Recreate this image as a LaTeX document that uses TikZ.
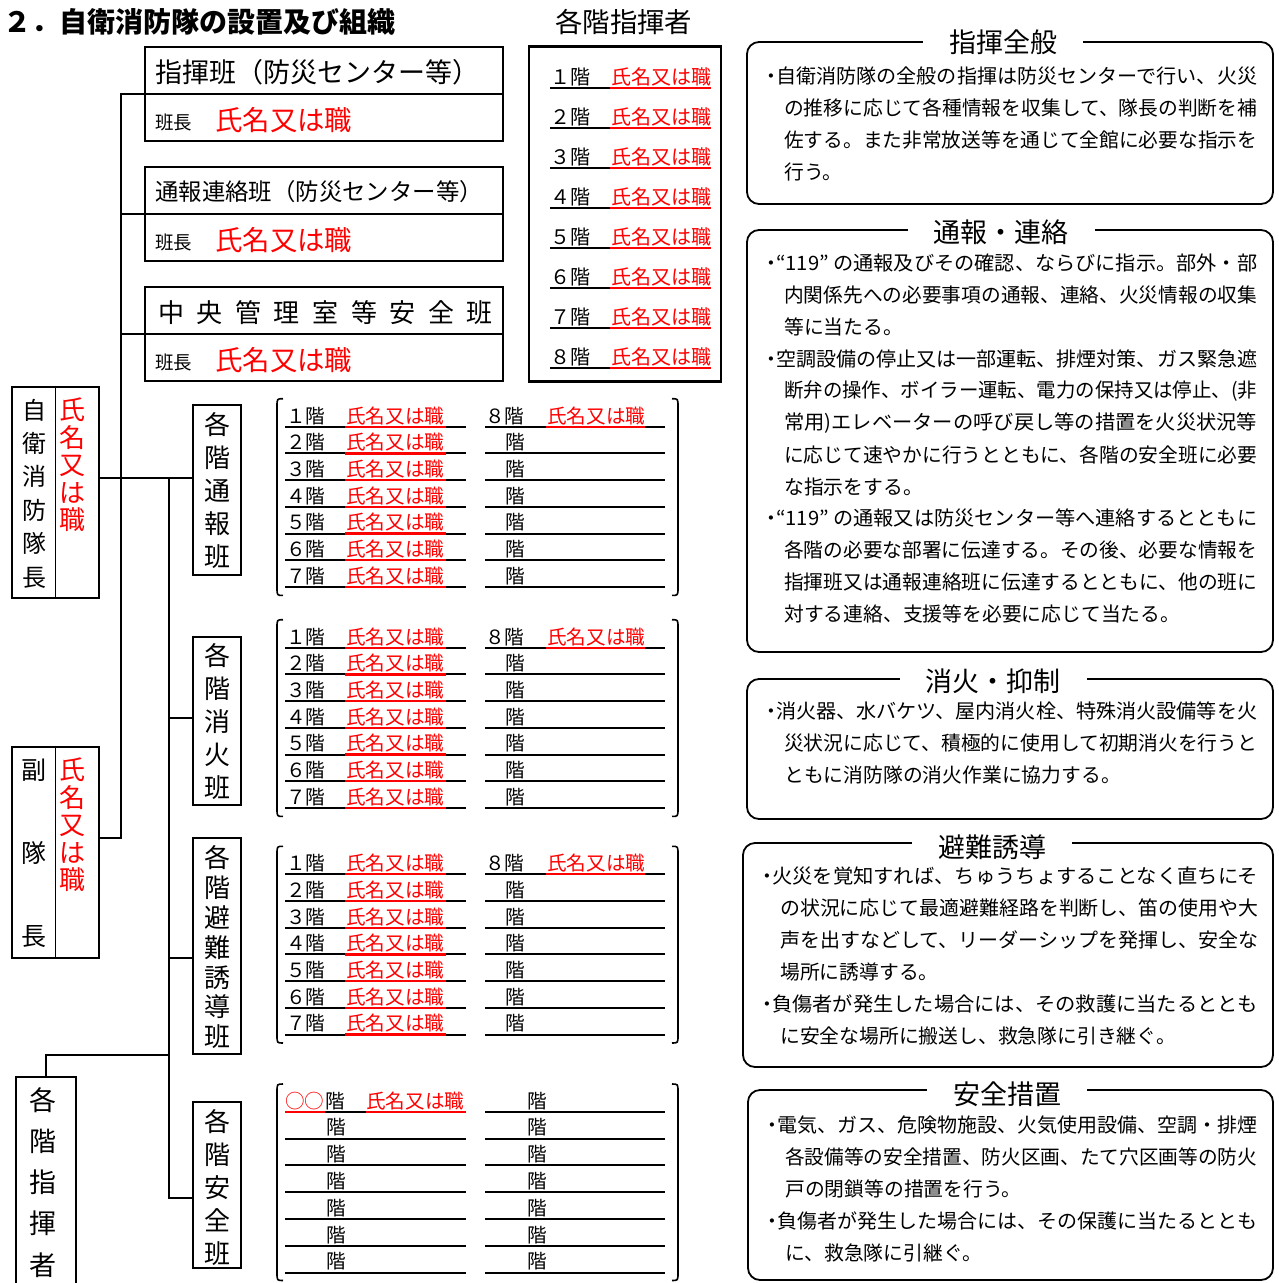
\documentclass[tikz,border=0pt]{standalone}
\usepackage{fontspec}
\usepackage{graphicx}
\setmainfont{Noto Sans CJK JP}
\definecolor{jred}{RGB}{255,0,0}
\newcommand\fsz[1]{\fontsize{#1pt}{#1pt}\selectfont}
\newcommand\fwd[1]{\ifcase#1 ０\or １\or ２\or ３\or ４\or ５\or ６\or ７\or ８\fi}
\tikzset{
  cj/.style={inner sep=0pt, execute at begin node={\rule[-0.12em]{0pt}{1em}}},
  box/.style={draw, line width=2.6pt, inner sep=0pt},
  conn/.style={line width=2.4pt},
  tline/.style={line width=2pt},
  rline/.style={line width=2.2pt, draw=jred},
  rbox/.style={draw, line width=1.8pt, rounded corners=12pt, inner sep=0pt},
  ttl/.style={cj, fill=white, inner xsep=26pt, inner ysep=1pt, font=\fsz{27}},
  body/.style={cj, anchor=west, font=\fsz{19.8}},
  brk/.style={line width=1.6pt},
  rowtxt/.style={cj, anchor=west, font=\fsz{19.6}},
}
\newcommand\bulpt[3]{\node[cj, font=\fsz{19.8}] (#1) at (#2,#3) {・};}
\newcommand\justl[5]{\node[body] (#1) at (#2,#3) {\resizebox{#4pt}{\height}{\rule[-0.12em]{0pt}{1em}#5}};}
\newcommand\natl[4]{\node[body] (#1) at (#2,#3) {#4};}
\newcommand\vtext[7]{%
  \foreach \c [count=\k] in {#7}{\node[cj, text=#6, font=\fsz{#5}] (#1\k) at (#2,{#3+(\k-1)*#4}) {\c};}}
\newcommand\brackets[2]{%
  \draw[brk] (283,#1) .. controls (277,#1) .. (277,{#1+8}) -- (277,{#2-8}) .. controls (277,#2) .. (283,#2);
  \draw[brk] (672,#1) .. controls (678,#1) .. (678,{#1+8}) -- (678,{#2-8}) .. controls (678,#2) .. (672,#2);}
\newcommand\floortab[2]{%
  \foreach \i in {1,...,7}{%
    \pgfmathsetmacro\yy{#2+(\i-1)*26.7}
    \draw[tline] (285,\yy) -- (466,\yy);
    \draw[tline] (485,\yy) -- (665,\yy);
    \draw[rline] (345,\yy) -- (446,\yy);
    \node[rowtxt] (#1l\i) at (286,{\yy-11}) {\fwd{\i}階};
    \node[rowtxt, text=jred] (#1n\i) at (346,{\yy-11}) {氏名又は職};
    \ifnum\i=1
      \draw[rline] (546,\yy) -- (645,\yy);
      \node[rowtxt] (#1r\i) at (485,{\yy-11}) {８階};
      \node[rowtxt, text=jred] (#1m\i) at (547,{\yy-11}) {氏名又は職};
    \else
      \node[rowtxt] (#1r\i) at (505,{\yy-11}) {階};
    \fi
  }
  \pgfmathsetmacro\tt{#2-28}\pgfmathsetmacro\bb{#2+168.7}
  \brackets{\tt}{\bb}}
\begin{document}
\begin{tikzpicture}[x=1pt,y=-1pt]
\useasboundingbox (0,0) rectangle (1279,1283);

% titles
\node[cj, anchor=west, font=\fsz{28}\bfseries] (title) at (3,22) {２．自衛消防隊の設置及び組織};
\node[cj, anchor=west, font=\fsz{27.4}] (kttl) at (555,22) {各階指揮者};

% top-left boxes
\node[box, minimum width=358pt, minimum height=94pt] (b1) at (324,94) {};
\node[box, minimum width=358pt, minimum height=94pt] (b2) at (324,214) {};
\node[box, minimum width=358pt, minimum height=94pt] (b3) at (324,334) {};
\draw[conn] (b1.west) -- (b1.east);
\draw[conn] (b2.west) -- (b2.east);
\draw[conn] (b3.west) -- (b3.east);
\node[cj, anchor=west, font=\fsz{27}] (b1t) at (155,72) {指揮班（防災センター等）};
\node[cj, anchor=west, font=\fsz{23.4}] (b2t) at (155,192) {通報連絡班（防災センター等）};
\node[cj, anchor=west, font=\fsz{26}] (b3t) at (158,313) {中\hspace{12.6pt}央\hspace{12.6pt}管\hspace{12.6pt}理\hspace{12.6pt}室\hspace{12.6pt}等\hspace{12.6pt}安\hspace{12.6pt}全\hspace{12.6pt}班};
\foreach \n/\y in {1/122,2/242,3/362}{
  \node[cj, anchor=west, font=\fsz{18.5}] (b\n h) at (155,\y) {班長};
  \node[cj, anchor=west, font=\fsz{27.4}, text=jred] (b\n r) at (215,{\y-2}) {氏名又は職};
}

% floor commander table
\node[draw, line width=2.6pt, minimum width=192pt, minimum height=335pt, inner sep=0pt] (ktab) at (625,214) {};
\foreach \i in {1,...,8}{
  \pgfmathsetmacro\yy{88.3+(\i-1)*40}
  \draw[tline] (550,\yy) -- (611,\yy);
  \draw[rline] (610,\yy) -- (711,\yy);
  \node[cj, anchor=west, font=\fsz{20}] (kf\i) at (550,{\yy-11}) {\fwd{\i}階};
  \node[cj, anchor=west, font=\fsz{20}, text=jred] (kn\i) at (611,{\yy-11}) {氏名又は職};
}

% left boxes
\node[box, minimum width=87pt, minimum height=211pt] (taicho) at (55.5,492.5) {};
\draw[line width=1.6pt] (taicho.north) -- (taicho.south);
\vtext{tc}{34}{410}{33.4}{24}{black}{自,衛,消,防,隊,長}
\vtext{tr}{72}{410}{27.5}{26}{jred}{氏,名,又,は,職}

\node[box, minimum width=87pt, minimum height=211pt] (fuku) at (55.5,852.5) {};
\draw[line width=1.6pt] (fuku.north) -- (fuku.south);
\vtext{fc}{34}{770}{83}{25}{black}{副,隊,長}
\vtext{fr}{72}{770}{27.5}{26}{jred}{氏,名,又,は,職}

\node[box, minimum width=60pt, minimum height=226pt] (kakukai) at (46,1190) {};
\vtext{kc}{43}{1100}{41.2}{27}{black}{各,階,指,揮,者}

% group boxes
\node[box, minimum width=48pt, minimum height=170pt] (tsuho) at (217,490) {};
\vtext{g1}{217}{425}{33}{26}{black}{各,階,通,報,班}
\node[box, minimum width=48pt, minimum height=168pt] (shoka) at (217,721) {};
\vtext{g2}{217}{656}{33}{26}{black}{各,階,消,火,班}
\node[box, minimum width=48pt, minimum height=216pt] (hinan) at (217,946) {};
\vtext{g3}{217}{858}{29.8}{26}{black}{各,階,避,難,誘,導,班}
\node[box, minimum width=48pt, minimum height=166pt] (anzen) at (217,1185) {};
\vtext{g4}{217}{1122}{32.8}{26}{black}{各,階,安,全,班}

% connectors
\coordinate (busA) at (121,0);
\coordinate (busB) at (169,0);
\coordinate (yTaicho) at (0,478);
\coordinate (yFuku) at (0,838);
\coordinate (yShoka) at (0,718);
\coordinate (yHinan) at (0,958);
\coordinate (yAnzen) at (0,1198);
\coordinate (yKaku) at (0,1055);
\draw[conn] (b1.west) -| (busA |- yFuku) -- (fuku.east |- yFuku);
\draw[conn] (b2.west) -- (b2.west -| busA);
\draw[conn] (b3.west) -- (b3.west -| busA);
\draw[conn] (taicho.east |- yTaicho) -- (tsuho.west |- yTaicho);
\draw[conn] (busB |- yTaicho) -- (busB |- yAnzen) -- (anzen.west |- yAnzen);
\draw[conn] (busB |- yShoka) -- (shoka.west |- yShoka);
\draw[conn] (busB |- yHinan) -- (hinan.west |- yHinan);
\draw[conn] (busB |- yKaku) -| (kakukai.north);

% floor tables
\floortab{ta}{426.7}
\floortab{tb}{647.7}
\floortab{tc}{874.3}
% safety table
\foreach \i in {1,...,7}{%
  \pgfmathsetmacro\yy{1111.7+(\i-1)*26.8}
  \draw[tline] (285,\yy) -- (466,\yy);
  \draw[tline] (485,\yy) -- (665,\yy);
  \node[rowtxt] (tdr\i) at (527,{\yy-11}) {階};
  \ifnum\i=1
    \draw[rline] (285,\yy) -- (325,\yy);
    \draw[rline] (366,\yy) -- (466,\yy);
    \node[rowtxt, text=jred] (tdo\i) at (285,{\yy-11}) {○○};
    \node[rowtxt] (tdl\i) at (325,{\yy-11}) {階};
    \node[rowtxt, text=jred] (tdn\i) at (366,{\yy-11}) {氏名又は職};
  \else
    \node[rowtxt] (tdl\i) at (326,{\yy-11}) {階};
  \fi
}
\brackets{1084}{1280.5}

% right boxes
\node[rbox, minimum width=526pt, minimum height=162pt] (A) at (1010,123) {};
\node[ttl] (At) at (1003,42) {指揮全般};
\bulpt{Ab1}{771}{76}
\justl{A1}{776}{76}{481}{自衛消防隊の全般の指揮は防災センターで行い、火災}
\justl{A2}{784}{108}{473}{の推移に応じて各種情報を収集して、隊長の判断を補}
\justl{A3}{784}{140}{473}{佐する。また非常放送等を通じて全館に必要な指示を}
\natl{A4}{784}{172}{行う。}

\node[rbox, minimum width=526pt, minimum height=422pt] (B) at (1010,441) {};
\node[ttl] (Bt) at (1001,232) {通報・連絡};
\bulpt{Bb1}{771}{263}
\justl{B1}{776}{263}{481}{“119” の通報及びその確認、ならびに指示。部外・部}
\justl{B2}{784}{295}{473}{内関係先への必要事項の通報、連絡、火災情報の収集}
\natl{B3}{784}{327}{等に当たる。}
\bulpt{Bb2}{771}{359}
\justl{B4}{776}{359}{481}{空調設備の停止又は一部運転、排煙対策、ガス緊急遮}
\justl{B5}{784}{391}{473}{断弁の操作、ボイラー運転、電力の保持又は停止、(非}
\justl{B6}{784}{423}{473}{常用)エレベーターの呼び戻し等の措置を火災状況等}
\justl{B7}{784}{455}{473}{に応じて速やかに行うとともに、各階の安全班に必要}
\natl{B8}{784}{487}{な指示をする。}
\bulpt{Bb3}{771}{518}
\justl{B9}{776}{518}{481}{“119” の通報又は防災センター等へ連絡するとともに}
\justl{B10}{784}{550}{473}{各階の必要な部署に伝達する。その後、必要な情報を}
\justl{B11}{784}{582}{473}{指揮班又は通報連絡班に伝達するとともに、他の班に}
\natl{B12}{784}{614}{対する連絡、支援等を必要に応じて当たる。}

\node[rbox, minimum width=526pt, minimum height=140pt] (C) at (1010,749) {};
\node[ttl] (Ct) at (993,681) {消火・抑制};
\bulpt{Cb1}{771}{711}
\justl{C1}{776}{711}{481}{消火器、水バケツ、屋内消火栓、特殊消火設備等を火}
\justl{C2}{784}{743}{473}{災状況に応じて、積極的に使用して初期消火を行うと}
\natl{C3}{784}{775}{ともに消防隊の消火作業に協力する。}

\node[rbox, minimum width=530pt, minimum height=224pt] (D) at (1008,955) {};
\node[ttl] (Dt) at (992,847) {避難誘導};
\bulpt{Db1}{767}{876}
\justl{D1}{772}{876}{486}{火災を覚知すれば、ちゅうちょすることなく直ちにそ}
\justl{D2}{780}{908}{478}{の状況に応じて最適避難経路を判断し、笛の使用や大}
\justl{D3}{780}{940}{478}{声を出すなどして、リーダーシップを発揮し、安全な}
\natl{D4}{780}{972}{場所に誘導する。}
\bulpt{Db2}{767}{1004}
\justl{D5}{772}{1004}{486}{負傷者が発生した場合には、その救護に当たるととも}
\natl{D6}{780}{1036}{に安全な場所に搬送し、救急隊に引き継ぐ。}

\node[rbox, minimum width=525pt, minimum height=190pt] (E) at (1010.5,1185) {};
\node[ttl] (Et) at (1007,1094) {安全措置};
\bulpt{Eb1}{772}{1125}
\justl{E1}{777}{1125}{480}{電気、ガス、危険物施設、火気使用設備、空調・排煙}
\justl{E2}{785}{1157}{472}{各設備等の安全措置、防火区画、たて穴区画等の防火}
\natl{E3}{785}{1189}{戸の閉鎖等の措置を行う。}
\bulpt{Eb2}{772}{1221}
\justl{E4}{777}{1221}{480}{負傷者が発生した場合には、その保護に当たるととも}
\natl{E5}{785}{1253}{に、救急隊に引継ぐ。}
\end{tikzpicture}
\end{document}
